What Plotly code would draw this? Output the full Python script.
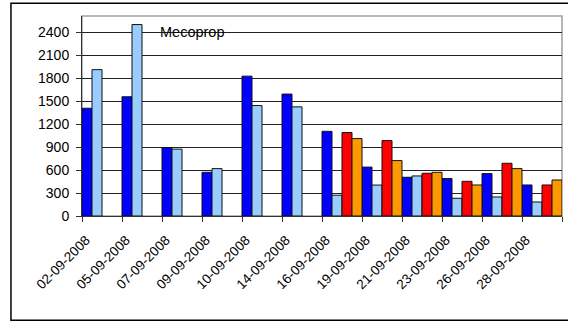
import plotly.graph_objects as go

categories = ["02-09-2008", "05-09-2008", "07-09-2008", "09-09-2008", "10-09-2008",
              "14-09-2008", "16-09-2008", "19-09-2008", "21-09-2008", "23-09-2008",
              "26-09-2008", "28-09-2008"]
series_a = [1410, 1560, 895, 572, 1830, 1595, 1108, 640, 507, 490, 555, 406]
series_b = [1915, 2505, 875, 620, 1445, 1428, 272, 405, 524, 232, 249, 183]
series_c = [None, None, None, None, None, None, 1092, 987, 559, 454, 690, 406]
series_d = [None, None, None, None, None, None, 1013, 725, 572, 406, 620, 471]
y_ticks = [0, 300, 600, 900, 1200, 1500, 1800, 2100, 2400]
title_text = "Mecoprop"

colors = ["#0000FF", "#99CCFF", "#FF0000", "#FF9900"]
fig = go.Figure()
for vals, col in zip([series_a, series_b, series_c, series_d], colors):
    fig.add_trace(go.Bar(x=categories, y=vals, marker=dict(color=col, line=dict(color="#111", width=1)),
                         showlegend=False, hoverinfo="skip"))

FAM = "Liberation Sans, Arial, sans-serif"
PW, PH = 479.7, 200.0
fig.update_layout(
    width=568, height=322,
    margin=dict(l=82, r=6.3, t=15.7, b=106.3, autoexpand=False),
    paper_bgcolor="white", plot_bgcolor="white",
    barmode="group", bargap=0, bargroupgap=0,
    font=dict(family=FAM, size=13, color="#000"),
    xaxis=dict(type="category", tickson="boundaries", ticks="outside", ticklen=5,
               tickcolor="#333", showline=True, linecolor="#333", linewidth=1,
               tickangle=-45, showgrid=False, automargin=False,
               ticklabelshift=-16, ticklabelstandoff=10,
               tickfont=dict(family=FAM, size=13.5, color="#000")),
    yaxis=dict(range=[0, 2617], tickvals=y_ticks, ticks="outside", ticklen=5,
               tickcolor="#333", showline=True, linecolor="#333", linewidth=1,
               showgrid=True, gridcolor="#222", gridwidth=1, zeroline=False, automargin=False,
               ticklabelstandoff=4,
               tickfont=dict(family=FAM, size=14, color="#000")),
    annotations=[dict(text=title_text, xref="paper", yref="paper", x=(158 - 82) / PW,
                      y=(215.7 - 32) / PH, xanchor="left", yanchor="middle", showarrow=False,
                      font=dict(family=FAM, size=14.5, color="#000"))],
    shapes=[
        dict(type="rect", xref="paper", yref="paper", x0=0, x1=1, y0=0, y1=1,
             line=dict(color="#a0a0a0", width=1.5), layer="below"),
        dict(type="rect", xref="paper", yref="paper", x0=(11 - 82) / PW, x1=1.05,
             y0=(215.7 - 320) / PH, y1=(215.7 - 3) / PH,
             line=dict(color="#000", width=1.5), layer="below"),
    ],
)
fig.write_html("out.html", config={"displayModeBar": False, "staticPlot": True},
               post_script="document.body.style.margin='0';")
